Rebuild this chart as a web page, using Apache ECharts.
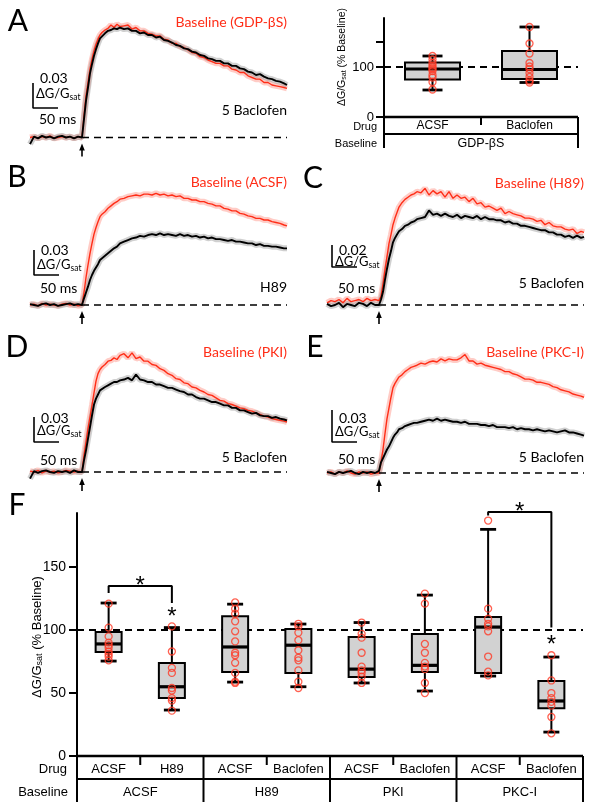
<!DOCTYPE html>
<html><head><meta charset="utf-8">
<script src="https://cdn.jsdelivr.net/npm/echarts@6/dist/echarts.min.js"></script>
<style>html,body{margin:0;padding:0;background:#fff}#c{width:594px;height:811px}</style>
</head><body><div id="c"></div>
<script>
// ---------- DATA ----------
// time axis of the fluorescence traces (ms, 0 = stimulus arrow)
const TIME_MS = [-104,-96,-88,-80,-72,-64,-56,-48,-40,-32,-24,-16,-8,0,4,8,12,16,20,24,28,32,36,40,46,52,58,64,70,76,84,92,100,108,116,124,132,140,148,156,164,172,180,188,196,204,212,220,228,236,244,252,260,268,276,284,292,300,308,316,324,332,340,348,356,364,372,380,388,396,404,410];
// trace values in milli-units of ΔG/Gsat (divide by 1000)
const A_baseline_m = [0,1,-1,1,0,2,-1,0,1,0,1,-1,1,0,26,50,66,82,94,104,112,118,123,126,129,131,135,132,136,133,134,135,130,132,128,128,125,124,122,122,118,117,113,113,109,108,105,102,101,97,96,93,91,89,89,86,86,82,81,78,78,74,72,70,70,66,66,63,62,61,60,59];
const A_drug_m = [-8,1,-1,2,0,1,-1,1,2,0,1,-1,1,0,22,44,60,77,88,98,106,113,119,121,125,128,129,131,130,132,130,131,128,128,125,126,123,123,120,121,117,116,114,111,110,107,106,103,102,99,98,95,94,92,92,89,89,86,86,83,82,79,78,75,76,73,71,70,68,67,65,63];
const B_baseline_m = [0,1,-1,2,0,1,0,-1,1,2,0,1,-1,0,15,33,48,62,74,85,93,100,106,109,112,116,119,122,124,127,128,130,131,132,131,133,133,132,134,132,133,131,132,130,131,128,128,126,126,124,124,122,121,119,119,116,115,113,113,110,109,107,106,104,104,102,102,100,99,98,96,95];
const B_drug_m = [1,0,-1,1,2,0,1,-1,0,1,2,0,1,0,8,15,22,30,36,41,45,49,54,56,59,62,65,68,70,74,76,78,80,81,83,82,84,85,84,86,84,85,84,83,85,83,84,82,83,81,82,80,81,79,79,78,77,78,76,76,75,74,74,72,73,71,71,70,70,69,68,68];
const C_baseline_m = [2,4,3,5,2,6,3,4,5,3,6,4,5,4,8,19,32,44,56,64,73,79,84,89,93,96,98,100,101,103,102,106,100,104,101,103,98,103,97,100,97,98,94,97,92,93,89,90,88,86,88,83,85,83,82,81,79,79,78,76,77,73,75,72,71,71,69,68,69,65,67,66];
const C_drug_m = [1,-1,0,2,-2,1,0,-1,2,1,-1,2,0,0,5,12,23,33,42,49,57,61,64,67,69,72,73,75,76,78,79,80,86,82,83,81,83,81,80,82,79,81,80,79,81,78,80,78,78,77,77,75,76,74,74,72,72,71,70,69,68,68,66,66,64,64,62,63,61,63,61,62];
const D_baseline_m = [1,0,2,-1,1,0,1,-1,0,2,1,0,1,0,20,36,52,66,80,95,109,118,123,126,129,133,134,137,135,140,142,137,143,136,138,133,133,129,128,124,122,118,116,112,111,107,106,102,101,98,96,93,92,89,86,85,82,81,79,77,76,74,73,71,69,67,66,64,63,62,61,60];
const D_drug_m = [-8,1,-1,1,2,0,-1,1,0,1,-1,2,0,0,14,26,40,54,68,81,88,93,98,100,102,104,106,108,108,110,111,113,110,117,111,110,108,108,105,105,103,101,101,99,97,96,93,93,90,88,88,86,84,84,82,80,80,77,77,74,74,72,70,71,68,67,67,65,66,64,63,62];
const E_baseline_m = [0,1,-1,1,0,2,0,-1,1,0,1,-1,0,0,10,22,37,51,61,71,80,84,87,90,92,95,97,99,100,101,103,102,104,105,104,107,105,107,106,106,108,111,105,105,102,103,101,100,99,98,97,95,95,93,92,90,88,88,87,85,85,84,83,81,80,78,77,76,74,73,72,71];
const E_drug_m = [1,0,-1,1,0,1,2,0,-1,1,0,1,0,2,10,14,18,22,25,29,33,36,38,41,42,44,45,46,47,47,48,49,50,49,51,49,50,49,48,48,47,48,46,46,46,45,45,44,45,43,43,43,42,43,41,42,41,41,40,41,40,39,40,39,38,39,40,38,38,37,36,35];
const SCALE_BAR_MS = 50;
const SCALE_BAR_DG = [0.03, 0.03, 0.02, 0.03, 0.03];

// Panel A box plot (% baseline)
const A_drugs = ['ACSF', 'Baclofen'];
const A_baselineGroup = 'GDP-βS';
const A_whiskerLow = [54, 69];
const A_q1 = [75, 76];
const A_median = [96, 95];
const A_q3 = [109, 132];
const A_whiskerHigh = [122, 180];
const A_pts_ACSF = [122, 115, 108, 103, 99, 96, 92, 84, 79, 70, 55];
const A_pts_Baclofen = [180, 147, 127, 108, 101, 96, 88, 80, 73, 69];

// Panel F box plot (% baseline)
const F_drugs = ['ACSF', 'H89', 'ACSF', 'Baclofen', 'ACSF', 'Baclofen', 'ACSF', 'Baclofen'];
const F_baselineGroups = ['ACSF', 'H89', 'PKI', 'PKC-I'];
const F_whiskerLow = [75.4, 36.5, 58.7, 55, 58, 51.6, 63.5, 19];
const F_q1 = [82.6, 46, 66.7, 66, 62.7, 66.7, 66, 38];
const F_median = [89, 55, 86.6, 88, 69, 72, 102.4, 43.7];
const F_q3 = [98.4, 73.8, 111, 100.8, 94.5, 96.8, 110.4, 59.5];
const F_whiskerHigh = [121.5, 102, 120.6, 104.8, 106, 127.8, 180, 78.6];
const F_pts_ACSF_ACSF = [121, 102, 95, 90, 88, 86, 83, 81, 79, 76];
const F_pts_ACSF_H89 = [103, 83, 70, 66, 54, 52, 46, 44, 36];
const F_pts_H89_ACSF = [122, 117, 113, 107, 99, 91, 82, 80, 74, 66, 59, 58];
const F_pts_H89_Baclofen = [105, 103, 98, 92, 84, 78, 76, 68, 59, 54];
const F_pts_PKI_ACSF = [106, 97, 94, 82, 71, 68, 66, 63, 58];
const F_pts_PKI_Baclofen = [129, 121, 89, 82, 74, 71, 69, 58, 50];
const F_pts_PKCI_ACSF = [187, 117, 109, 105, 103, 99, 79, 67, 64];
const F_pts_PKCI_Baclofen = [80, 60, 50, 46, 43, 40, 31, 18];
// significance brackets: [fromIdx, toIdx, level, leftLegEnd, rightLegEnd]
const F_bracket1 = [0, 1, 135, 129.4, 121.5];
const F_bracket2 = [6, 7, 193.7, 191, 102];
const F_starsAbove = [[1, 110], [7, 88]];

// ---------- LAYOUT / STYLE ----------
const RED = '#ff2d17';
const RED_BAND = 'rgba(255,120,105,0.38)';
const GRAY_BAND = 'rgba(150,150,150,0.45)';
const TFONT = 'Lato';
const BFONT = 'Liberation Sans';
const T_MIN = -104, T_MAX = 412;

const panels = [
  {L:'A', left:30, top:5, bottom:160, baseY:137.5, ppu:833.3, red:A_baseline_m, blk:A_drug_m, sbT:-98, sbY:0.0354, sb:SCALE_BAR_DG[0], redLbl:'Baseline (GDP-βS)', blkLbl:'5 Baclofen', lx:18, ly:21, redY:22, blkY:110, sbTxtY:[78,94,119]},
  {L:'B', left:30, top:165, bottom:322, baseY:305, ppu:833.3, red:B_baseline_m, blk:B_drug_m, sbT:-96, sbY:0.036, sb:SCALE_BAR_DG[1], redLbl:'Baseline (ACSF)', blkLbl:'H89', lx:17, ly:177, redY:182, blkY:287, sbTxtY:[250,265,288]},
  {L:'C', left:327, top:165, bottom:322, baseY:305, ppu:1100, red:C_baseline_m, blk:C_drug_m, sbT:-94, sbY:0.0345, sb:SCALE_BAR_DG[2], redLbl:'Baseline (H89)', blkLbl:'5 Baclofen', lx:313, ly:178, redY:183, blkY:283, sbTxtY:[250,262,288]},
  {L:'D', left:30, top:330, bottom:490, baseY:472, ppu:833.3, red:D_baseline_m, blk:D_drug_m, sbT:-96, sbY:0.036, sb:SCALE_BAR_DG[3], redLbl:'Baseline (PKI)', blkLbl:'5 Baclofen', lx:17, ly:347, redY:352, blkY:457, sbTxtY:[418,431,460]},
  {L:'E', left:327, top:330, bottom:490, baseY:473, ppu:1067, red:E_baseline_m, blk:E_drug_m, sbT:-94, sbY:0.029, sb:SCALE_BAR_DG[4], redLbl:'Baseline (PKC-I)', blkLbl:'5 Baclofen', lx:315, ly:347, redY:352, blkY:457, sbTxtY:[418,432,459]}
];
const TW = 258; // trace grid width (2 ms/px)

const grids = [], xAxes = [], yAxes = [], series = [], graphics = [];
function txt(x, y, text, o) {
  o = o || {};
  graphics.push({type:'text', x:x, y:y, rotation:o.rot || 0, z:100, style:{text:text, fill:o.color || '#000',
    font:(o.size || 14) + 'px "' + (o.family || TFONT) + '"', align:o.align || 'left', verticalAlign:'middle',
    textAlign:o.align || 'left', textVerticalAlign:'middle', rich:o.rich}});
}
function gline(x1, y1, x2, y2, w) {
  graphics.push({type:'line', z:90, shape:{x1:x1, y1:y1, x2:x2, y2:y2}, style:{stroke:'#000', lineWidth:w || 2}});
}
function lineSeries(gi, data, color, width, extra) {
  return Object.assign({type:'line', xAxisIndex:gi, yAxisIndex:gi, data:data, symbol:'none', silent:true,
    animation:false, lineStyle:{color:color, width:width}}, extra || {});
}

panels.forEach((p, i) => {
  grids.push({left:p.left, top:p.top, width:TW, height:p.bottom - p.top});
  xAxes.push({type:'value', gridIndex:i, min:T_MIN, max:T_MAX, show:false});
  yAxes.push({type:'value', gridIndex:i, min:-(p.bottom - p.baseY) / p.ppu, max:(p.baseY - p.top) / p.ppu, show:false});
  const pts = arr => TIME_MS.map((t, k) => [t, arr[k] / 1000]);
  series.push(lineSeries(i, pts(p.red), RED_BAND, 6, {z:1}));
  series.push(lineSeries(i, pts(p.blk), GRAY_BAND, 6, {z:2}));
  series.push(lineSeries(i, pts(p.red), RED, 1.4, {z:3}));
  series.push(lineSeries(i, pts(p.blk), '#000', 1.9, {z:4}));
  series.push(lineSeries(i, [[0, 0], [TIME_MS[TIME_MS.length - 1], 0]], '#000', 1.6, {z:5, lineStyle:{color:'#000', width:1.6, type:[7, 5]}}));
  series.push(lineSeries(i, [[p.sbT, p.sbY + p.sb], [p.sbT, p.sbY], [p.sbT + SCALE_BAR_MS, p.sbY]], '#000', 1.6, {z:5}));
  // labels
  const right = p.left + TW - 1;
  const sbX = p.left + (p.sbT - T_MIN) / 2;
  txt(p.lx, p.ly, p.L, {size:30, align:'center'});
  txt(right, p.redY, p.redLbl, {color:RED, align:'right', size:14});
  txt(right, p.blkY, p.blkLbl, {align:'right', size:14});
  txt(sbX + 7, p.sbTxtY[0], String(p.sb), {size:14});
  txt(sbX + 3, p.sbTxtY[1], '{m|ΔG/G}{s|sat}', {size:13, rich:{m:{fontSize:13, fontFamily:TFONT}, s:{fontSize:8.5, fontFamily:TFONT, padding:[7, 0, 0, 0]}}});
  txt(sbX + 6, p.sbTxtY[2], SCALE_BAR_MS + ' ms', {size:14});
});

// ---- Panel A box plot grid (index 5) ----
const GA = {left:384, top:18, width:194, height:99};
grids.push({left:GA.left, top:GA.top, width:GA.width, height:GA.height});
xAxes.push({type:'category', gridIndex:5, data:A_drugs, boundaryGap:true, axisLine:{show:false}, axisTick:{show:false},
  axisLabel:{fontFamily:BFONT, fontSize:12, color:'#000', margin:3}});
yAxes.push({type:'value', gridIndex:5, min:0, max:198, splitLine:{show:false},
  axisLine:{show:true, lineStyle:{color:'#000', width:2}},
  axisTick:{show:true, length:8, lineStyle:{color:'#000', width:2}, customValues:[0, 100, 150]},
  axisLabel:{fontFamily:BFONT, fontSize:13, color:'#000', margin:10, customValues:[0, 100]}});

// ---- Panel F box plot grid (index 6) ----
const GF = {left:77, top:513, width:506, height:243};
grids.push({left:GF.left, top:GF.top, width:GF.width, height:GF.height});
xAxes.push({type:'category', gridIndex:6, data:F_drugs, boundaryGap:true, axisLine:{show:false}, axisTick:{show:false},
  axisLabel:{fontFamily:BFONT, fontSize:13, color:'#000', margin:7, interval:0}});
yAxes.push({type:'value', gridIndex:6, min:0, max:193, splitLine:{show:false},
  axisLine:{show:true, lineStyle:{color:'#000', width:2}},
  axisTick:{show:true, length:8, lineStyle:{color:'#000', width:2}, customValues:[0, 50, 100, 150]},
  axisLabel:{fontFamily:BFONT, fontSize:14, color:'#000', margin:11, customValues:[0, 50, 100, 150]}});

function boxRender(boxW, capW) {
  return function (params, api) {
    const idx = api.value(0);
    const lo = api.coord([idx, api.value(1)]), q1 = api.coord([idx, api.value(2)]), md = api.coord([idx, api.value(3)]),
          q3 = api.coord([idx, api.value(4)]), hi = api.coord([idx, api.value(5)]);
    const cx = lo[0];
    return {type:'group', children:[
      {type:'line', shape:{x1:cx, y1:hi[1], x2:cx, y2:lo[1]}, style:{stroke:'#000', lineWidth:2}},
      {type:'rect', shape:{x:cx - boxW / 2, y:q3[1], width:boxW, height:q1[1] - q3[1]}, style:{fill:'#d2d2d2', stroke:'#000', lineWidth:2}},
      {type:'line', shape:{x1:cx - boxW / 2, y1:md[1], x2:cx + boxW / 2, y2:md[1]}, style:{stroke:'#000', lineWidth:3.2}},
      {type:'line', shape:{x1:cx - capW / 2, y1:hi[1], x2:cx + capW / 2, y2:hi[1]}, style:{stroke:'#000', lineWidth:2.8}},
      {type:'line', shape:{x1:cx - capW / 2, y1:lo[1], x2:cx + capW / 2, y2:lo[1]}, style:{stroke:'#000', lineWidth:2.8}}
    ]};
  };
}
function boxData(lo, q1, md, q3, hi) { return lo.map((v, i) => [i, lo[i], q1[i], md[i], q3[i], hi[i]]); }
const ptStyle = {color:'rgba(0,0,0,0)', borderColor:'#ff3a26', borderWidth:1.3};
const dash100 = {silent:true, symbol:'none', label:{show:false}, data:[{yAxis:100}], lineStyle:{color:'#000', width:2, type:[7, 5]}};

// A boxes
series.push({type:'custom', xAxisIndex:5, yAxisIndex:5, renderItem:boxRender(55, 20), encode:{x:0, y:[1, 2, 3, 4, 5]},
  data:boxData(A_whiskerLow, A_q1, A_median, A_q3, A_whiskerHigh), z:10, animation:false, silent:true});
series.push({type:'scatter', xAxisIndex:5, yAxisIndex:5, symbol:'circle', symbolSize:7, itemStyle:ptStyle, z:12, animation:false, silent:true,
  data:[].concat(A_pts_ACSF.map(v => [0, v]), A_pts_Baclofen.map(v => [1, v])), markLine:dash100});

// F boxes
const F_pts = [F_pts_ACSF_ACSF, F_pts_ACSF_H89, F_pts_H89_ACSF, F_pts_H89_Baclofen, F_pts_PKI_ACSF, F_pts_PKI_Baclofen, F_pts_PKCI_ACSF, F_pts_PKCI_Baclofen];
series.push({type:'custom', xAxisIndex:6, yAxisIndex:6, renderItem:boxRender(26, 16), encode:{x:0, y:[1, 2, 3, 4, 5]},
  data:boxData(F_whiskerLow, F_q1, F_median, F_q3, F_whiskerHigh), z:10, animation:false, silent:true});
series.push({type:'scatter', xAxisIndex:6, yAxisIndex:6, symbol:'circle', symbolSize:7, itemStyle:ptStyle, z:12, animation:false, silent:true,
  data:[].concat(...F_pts.map((arr, i) => arr.map(v => [i, v]))), markLine:dash100});
[F_bracket1, F_bracket2].forEach(b => {
  series.push(lineSeries(6, [[b[0], b[3]], [b[0], b[2]], [b[1], b[2]], [b[1], b[4]]], '#000', 2, {clip:false, z:13}));
});

// ---- static table / texts for box panels ----
// A
(function () {
  const x0 = GA.left, x1 = GA.left + GA.width, y0 = GA.top + GA.height, sw = GA.width / A_drugs.length;
  gline(x0, y0, x1, y0, 2.5); gline(x0, y0 + 17, x1, y0 + 17, 2);
  gline(x0, y0, x0, y0 + 31, 2); gline(x1, y0, x1, y0 + 31, 2);
  gline(x0 + sw, y0, x0 + sw, y0 + 8, 2);
  txt(x0 - 7, y0 + 10, 'Drug', {family:BFONT, size:11, align:'right'});
  txt(x0 - 7, y0 + 27, 'Baseline', {family:BFONT, size:11, align:'right'});
  txt((x0 + x1) / 2, y0 + 27, A_baselineGroup, {family:BFONT, size:12.5, align:'center'});
  txt(342, 57, '{m|ΔG/G}{s|sat}{m| (% Baseline)}', {family:BFONT, size:10.5, align:'center', rot:Math.PI / 2,
    rich:{m:{fontSize:10.5, fontFamily:BFONT}, s:{fontSize:7, fontFamily:BFONT, padding:[4, 0, 0, 0]}}});
})();
// F
(function () {
  const x0 = GF.left, x1 = GF.left + GF.width, y0 = GF.top + GF.height, sw = GF.width / F_drugs.length;
  gline(x0, y0, x1, y0, 2.5); gline(x0, y0 + 23, x1, y0 + 23, 2);
  for (let g = 0; g <= F_baselineGroups.length; g++) gline(x0 + 2 * g * sw, y0, x0 + 2 * g * sw, y0 + 46, 2);
  F_baselineGroups.forEach((name, g) => {
    gline(x0 + (2 * g + 1) * sw, y0, x0 + (2 * g + 1) * sw, y0 + 9, 2);
    txt(x0 + (2 * g + 1) * sw, y0 + 36, name, {family:BFONT, size:13, align:'center'});
  });
  txt(x0 - 10, y0 + 13, 'Drug', {family:BFONT, size:13, align:'right'});
  txt(x0 - 9, y0 + 36, 'Baseline', {family:BFONT, size:13, align:'right'});
  txt(37, 637, '{m|ΔG/G}{s|sat}{m| (% Baseline)}', {family:BFONT, size:13, align:'center', rot:Math.PI / 2,
    rich:{m:{fontSize:13, fontFamily:BFONT}, s:{fontSize:9, fontFamily:BFONT, padding:[5, 0, 0, 0]}}});
  txt(17, 505, 'F', {size:30, align:'center'});
})();

const chart = echarts.init(document.getElementById('c'));
chart.setOption({animation:false, backgroundColor:'#fff', grid:grids, xAxis:xAxes, yAxis:yAxes, series:series, graphic:graphics});

// arrows under traces and significance stars, placed through the library's coordinate system
const extra = [];
panels.forEach((p, i) => {
  const c = chart.convertToPixel({gridIndex:i}, [0, 0]);
  extra.push({type:'line', shape:{x1:c[0], y1:c[1] + 9, x2:c[0], y2:c[1] + 19}, style:{stroke:'#000', lineWidth:1.6}});
  extra.push({type:'polygon', shape:{points:[[c[0] - 2.8, c[1] + 13], [c[0] + 2.8, c[1] + 13], [c[0], c[1] + 6]]}, style:{fill:'#000'}});
});
function star(px, py) {
  extra.push({type:'text', x:px, y:py, z:100, style:{text:'*', font:'24px "Liberation Sans"', fill:'#000', align:'center', verticalAlign:'middle', textAlign:'center', textVerticalAlign:'middle'}});
}
[F_bracket1, F_bracket2].forEach(b => {
  const a = chart.convertToPixel({gridIndex:6}, [b[0], b[2]]), c = chart.convertToPixel({gridIndex:6}, [b[1], b[2]]);
  star((a[0] + c[0]) / 2, a[1]);
});
F_starsAbove.forEach(s => { const c = chart.convertToPixel({gridIndex:6}, s); star(c[0], c[1]); });
chart.setOption({graphic:graphics.concat(extra)});
</script></body></html>
